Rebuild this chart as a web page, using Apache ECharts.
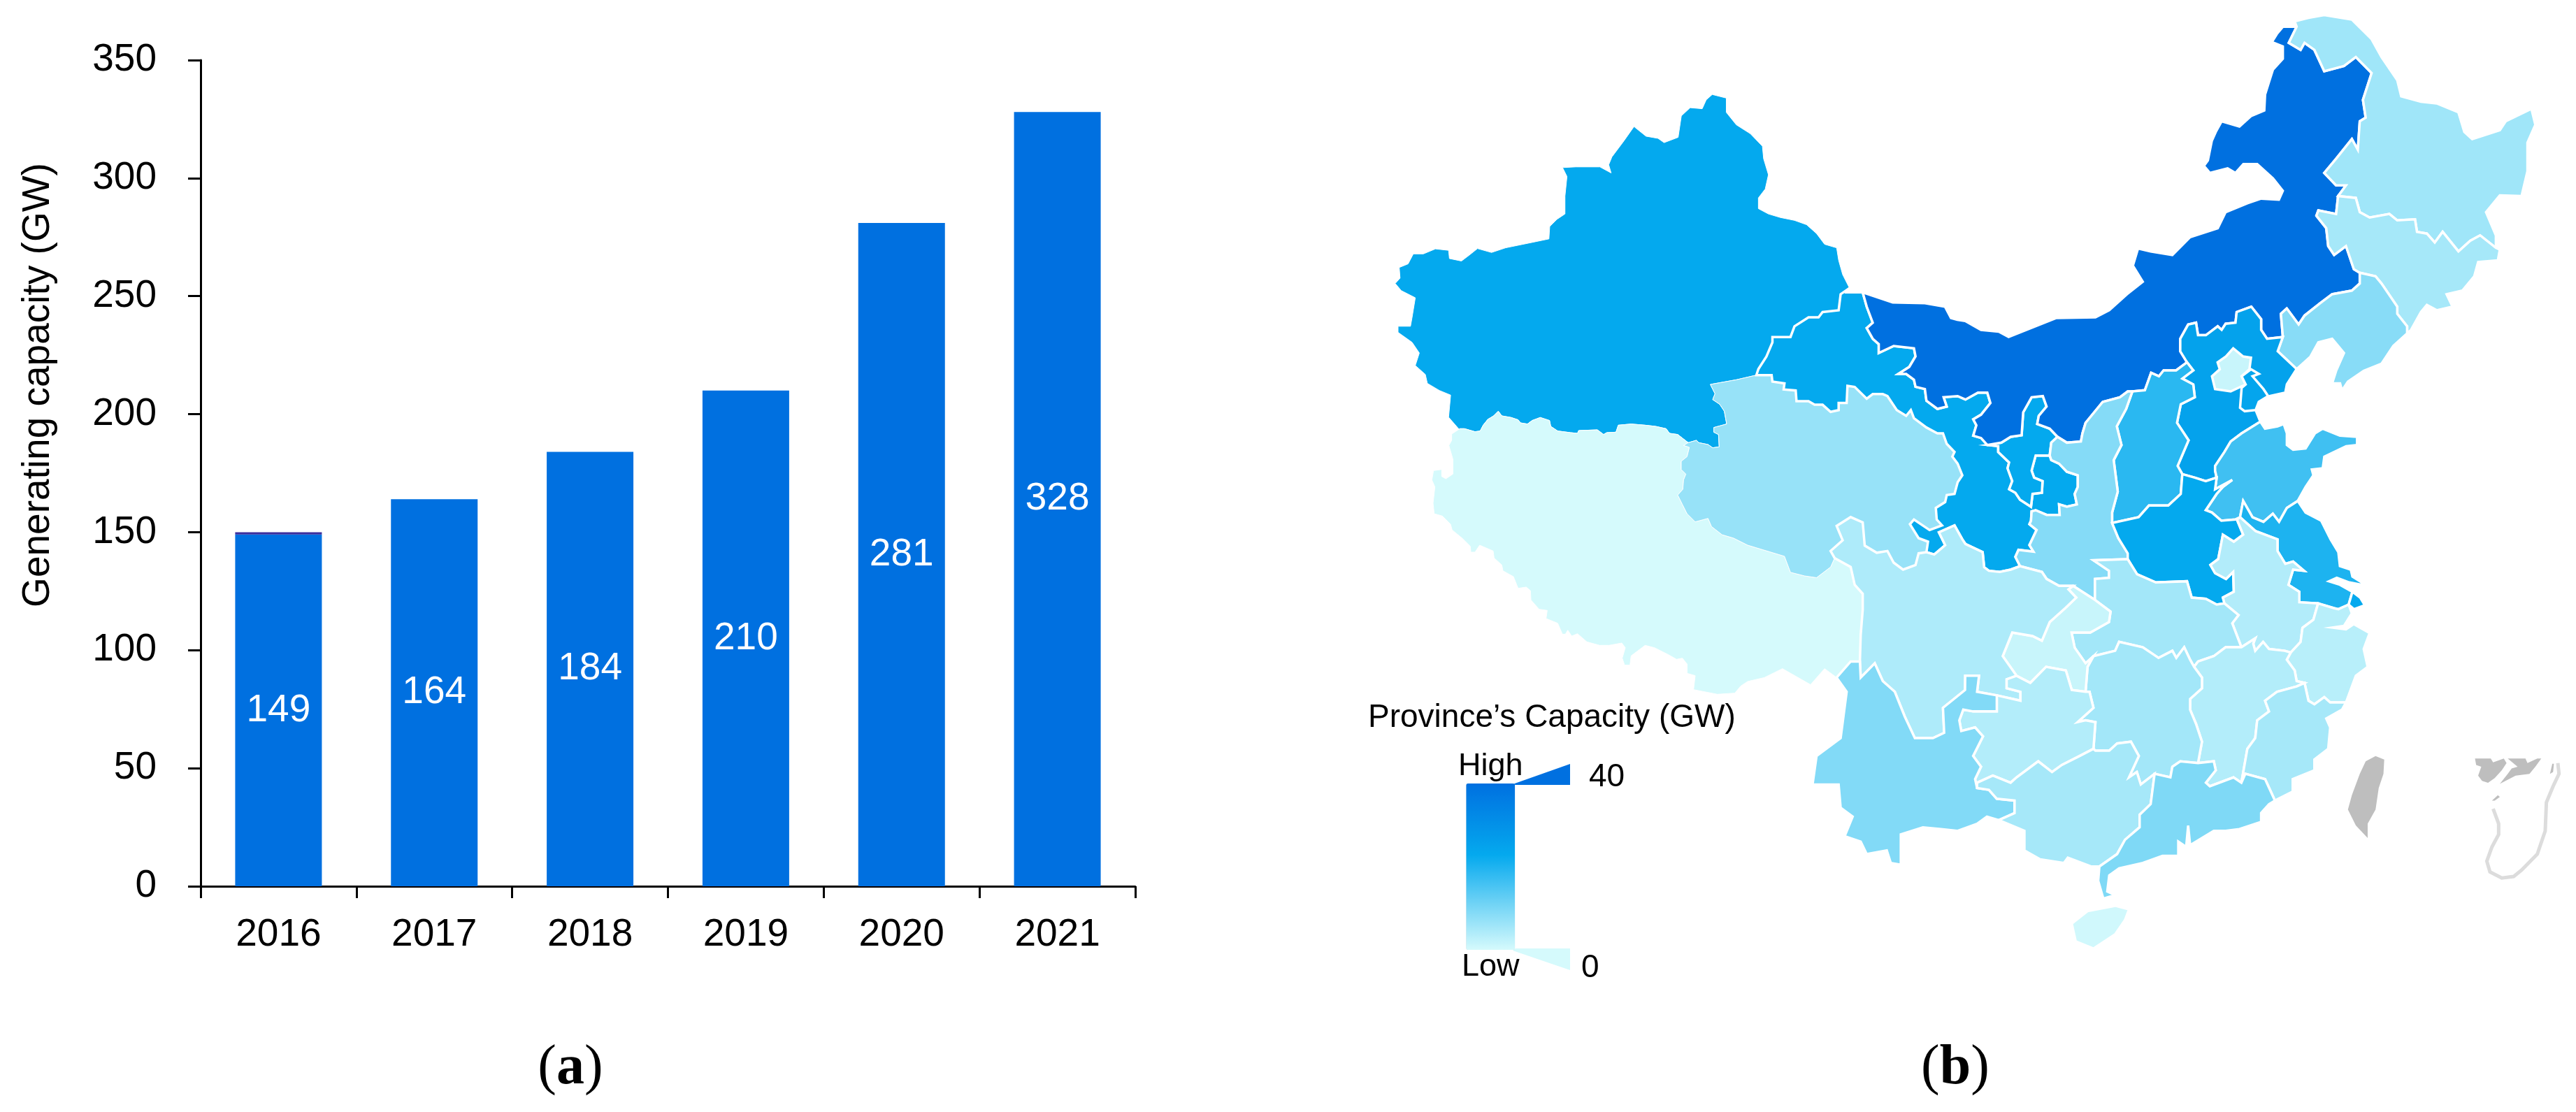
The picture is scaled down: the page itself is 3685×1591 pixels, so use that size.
<!DOCTYPE html>
<html><head><meta charset="utf-8"><style>html,body{margin:0;background:#fff}#c{width:3685px;height:1591px}</style>
<script src="https://cdn.jsdelivr.net/npm/echarts@6/dist/echarts.min.js"></script></head><body><div id="c"></div>
<script>
// ---------- panel (a) data ----------
const years = ['2016','2017','2018','2019','2020','2021'];
const capacity = [149,164,184,210,281,328];
const topSliver = [1,0,0,0,0,0];
const yTicks = {min:0,max:350,interval:50};

const provinceNames = ['Xinjiang','Xizang','Qinghai','Gansu','Ningxia','Inner Mongolia','Heilongjiang','Jilin','Liaoning','Hebei','Beijing','Tianjin','Shanxi','Shaanxi','Shandong','Henan','Jiangsu','Shanghai','Anhui','Zhejiang','Hubei','Jiangxi','Fujian','Hunan','Chongqing','Sichuan','Guizhou','Yunnan','Guangxi','Guangdong','Hainan'];
const provinceValues = [23,0,6.8,23,23,40,5.8,5.2,8.5,25,1.4,24,18.7,8.8,16.3,23,20.1,23,3.9,3.2,5.5,3.7,5.2,5.5,1.4,4.3,3.7,9.1,5.2,9.4,0.6];

// ---------- map outlines, traced as shared borders (map units) ----------
const trace=(ox,oy,sx,sy)=>(...n)=>{const o=[];for(let i=0;i<n.length;i+=2)o.push([ox+n[i]*sx,oy+n[i+1]*sy]);return o;};
const a2=trace(1950,0,.574,.5102),a3=trace(2800,0,.5644,.5102),a4=trace(1950,750,.574,.5102),a5=trace(2800,750,.5644,.5102);
const c1=trace(2000,550,1/3,1/3),c2=trace(2700,450,.4464,1/3);
const R=a=>[...a].reverse();

const xjNorth=a2(1212,808,1195,770,1185,730,1180,695,1150,685,1130,655,1105,630,1075,618,1040,610,1010,600,985,585,985,555,1002,530,1010,490,998,445,995,410,965,375,930,350,905,315,905,275,870,265,855,280,845,305,815,302,793,325,785,385,750,400,735,388,705,382,675,355,650,395,620,440,612,462,618,485,590,468,530,468,497,470,508,495,503,550,503,600,483,615,465,635,463,670,420,680,355,695,320,708,285,697,265,715,245,732,215,725,213,702,180,698,150,712,125,712,112,740,90,750,92,780,80,795,95,815,130,835,122,890,118,915,87,915,87,932,122,960,140,990,130,1025,155,1050,160,1075,190,1095,218,1108,213,1170,240,1205);
const xjxz=c1(265,190,285,190,330,203,352,200,365,175,385,150,410,135,430,115,445,135,485,142,515,152,525,165,555,170,575,155,610,142,650,155,655,180,685,200,740,207,770,210,775,198,855,195,882,215,895,207,935,205,945,175,1000,170,1060,175,1105,180,1150,190,1165,210,1200,215,1245,250);
const xjqh=[...c1(1245,250,1280,240,1290,250,1330,258,1350,272,1378,268,1375,215,1355,205,1355,185,1410,170,1400,115,1380,85,1350,65,1360,40,1340,0),...a2(930,1065,980,1052)];
const xjgs=a2(980,1052,985,1035,1005,1000,1020,960,1020,945,1065,945,1075,915,1110,890,1135,890,1145,875,1185,870,1190,825,1212,808);
const gsTop=a2(1212,808,1205,820,1245,820);
const xzOuter=[...c1(265,190,230,213,230,240,218,262,235,320,235,385,205,405,187,395,187,365,152,370,145,410,158,440,150,510,155,555,190,565,225,600,232,625,275,660,310,695,312,720,330,720,350,690,408,715,412,745,445,775,450,800,495,825,515,875,550,870,568,885,570,925,605,965,640,970,635,1005,685,1025,705,1072,718,1072,728,1055,745,1080,770,1070,810,1105,865,1120,905,1120,960,1110,975,1130,962,1175,972,1205,995,1205,1000,1165,1060,1120,1100,1130,1160,1160,1195,1180,1220,1175,1240,1200,1240,1240,1275,1250,1268,1310,1370,1330,1445,1325,1470,1295,1500,1275),...a4(1000,430,1045,405,1115,450,1150,405,1180,430)];
const xzyn=a4(1180,430,1215,385,1238,385);
const xzsc=a4(1175,95,1215,120,1225,170,1245,195,1245,240,1240,310,1238,385);
const qhxz=[...c1(1245,250,1225,262,1250,270,1240,310,1215,330,1215,365,1235,385,1225,410,1222,450,1200,475,1220,515,1240,555,1275,590,1330,575,1345,610,1390,645,1440,660,1500,690),...a4(1050,90,1065,135,1100,145,1130,150,1165,120,1175,95)];
const scqh=[...a4(1175,95,1165,75,1195,45,1180,5),...a2(1215,1450,1245,1465,1250,1530,1280,1550),...c2(0,1015,20,1065,50,1095,90,1075,100,1025,125,1020)];
const qhgs=[...a2(980,1052,1018,1052,1020,1070,1050,1075,1048,1092,1078,1095,1080,1125,1110,1125,1125,1135,1145,1135,1165,1155,1185,1150,1185,1130,1205,1130,1207,1082,1225,1085,1255,1118,1270,1105,1295,1105),...c2(0,350,30,410,60,435,75,410,85,445,125,485,160,510,178,510,190,555,215,590,208,610,225,640,240,690,225,720,215,770,190,775,185,805,155,830,158,880,175,905,135,925,85,880,72,900,100,960,130,975,125,1020)];
const gssc=c2(425,1080,395,1095,360,1105,325,1100,310,1085,305,1020,250,985,240,965,215,905,165,935,185,990,150,1030,125,1020);
const imOuter=[...a3(860,75,825,75,810,95,797,118,825,130,825,165,800,195,790,230,780,265,778,310,745,325,715,355,670,340,655,370,645,395,635,450,625,465,640,485,685,472,705,485,725,460,760,460,800,500,825,535,815,560,770,557,735,570,680,595,660,640,590,665,545,715,490,705,458,697,445,745,470,790,430,825,385,870,350,890,250,892,130,945,105,930,60,925,20,900,0,897),...a2(1465,892,1450,860,1400,850,1320,848,1245,820)];
const imgs=[...a2(1245,820,1255,860,1270,905,1255,920,1270,950,1285,965,1285,990),...c2(20,135,85,145,90,180,70,225,35,255,60,255,85,280,90,310,120,320,125,370,160,405,190,395,180,355,225,350,250,365,290,335,320,335,330,380,300,430,275,450,285,475,275,520,300,530,320,560)];
const imnx=c2(320,560,365,550,395,525,430,518,435,420,462,355,498,350,510,395,485,435,480,470,520,490,545,525);
const nxgs=c2(320,560,355,565,355,590,390,635,385,660,400,715,390,750,410,765,425,795,460,825,465,770,495,765,497,715,470,700,462,670,475,605,520,605);
const nxsx=c2(545,525,525,550,520,605);
const gssx=c2(520,605,525,625,550,640,575,675,610,690,610,740,600,770,607,815,575,825,550,815,552,860,510,860,475,840,462,845,460,885,455,900,478,925,455,990,468,1018,420,1010,410,1040,425,1080);
const imsx=c2(545,525,575,550,620,545,625,510,635,465,690,375,745,355,770,330,785,330);
const sxsn=c2(785,330,765,405,735,480,750,560,725,625,738,760,720,850,720,895);
const imsn=c2(785,330,825,325,845,250,870,265,885,240,925,240,960,205);
const snhb=c2(960,205,980,240,945,275,980,300,985,355,940,385,928,465,965,540,930,650,945,685);
const snhn=c2(945,685,940,770,900,820,838,820,805,870,720,895);
const imhb=[...c2(960,205),...a3(565,985,565,950,585,910,605,905,610,940,630,940,660,915,670,925,680,908,705,905,708,875,745,860,770,895,770,925,785,950,825,945)];
const lnhb=a3(825,945,812,985,860,1035);
const hbCoast=[...a3(860,1035),...c2(1280,300,1275,335,1225,350,1190,375,1180,410,1195,460)];
const hbsd=c2(1195,460,1135,510,1100,545,1080,590,1050,650,1050,670,1055,700);
const hbhn=c2(1055,700,1020,715,985,700,945,685);
const beijing=c2(1108,145,1140,180,1165,185,1160,235,1135,265,1148,300,1100,330,1050,320,1040,265,1065,235,1058,205,1085,180);
const tianjin=c2(1165,235,1190,255,1170,265,1205,320,1220,350,1190,375,1180,410,1145,415,1130,400,1135,315,1148,300,1135,265);
const imln=a3(825,945,820,880,835,865,865,910,880,885,920,850,950,825,1000,815,1020,795,1020,765);
const imjl=a3(1020,765,1005,755,985,690,955,715,940,690,935,640,910,605,915,590,960,600,965,550);
const imhlj=a3(965,550,985,520,960,520,930,485,960,445,1000,390,1015,420,1020,340,1035,330,1028,280,1050,205,1010,160,980,185,930,200,905,140,880,120,870,140,840,120,860,75);
const hljOuter=a3(860,75,855,60,890,50,930,42,1000,55,1050,110,1075,160,1115,225,1125,270,1175,285,1215,290,1270,315,1285,370,1305,390,1375,365,1390,340,1455,305,1465,350,1445,400,1445,480,1430,550,1375,548,1340,595,1365,660,1365,695);
const hljjl=a3(965,550,1010,555,1020,595,1045,610,1095,600,1115,618,1160,615,1165,650,1190,655,1210,680,1230,650,1270,705,1300,675,1325,660,1365,695);
const jlOuter=a3(1365,695,1375,700,1370,730,1320,735,1310,775,1280,815,1240,825,1255,860,1215,870,1190,855,1175,875,1150,925,1140,935);
const jlln=a3(1020,765,1060,775,1075,795,1115,860,1115,880,1140,915,1140,935);
const lnCoast=a3(1140,935,1105,970,1075,1020,1030,1040,990,1070,975,1095,970,1075,950,1075,960,1040,980,990,950,950,915,960,895,1000,870,1025,860,1035);
const sdCoast=c2(1195,460,1210,490,1250,480,1270,470,1280,510,1280,560,1300,580,1340,575,1370,510,1395,490,1450,520,1505,525,1505,560,1470,565,1400,610,1395,660,1360,665,1365,690,1340,740,1315,800);
const sdjs=c2(1315,800,1280,830,1255,890,1235,855,1205,890,1170,870,1140,800,1130,870);
const hnsd=c2(1130,870,1115,880,1070,885,1040,850,1020,840,1055,770,1075,740,1105,710,1050,750,1055,700);
const sxhn=c2(720,895,740,960,770,1025,770,1050);
const sxhb=c2(770,1050,660,1055,710,1100,710,1130,665,1135,665,1225);
const cqsx=c2(595,1165,665,1225);
const scsx=c2(425,1080,495,1105,510,1135,550,1165,595,1165);
const hubhn=c2(770,1050,800,1115,860,1150,960,1145,975,1215,1020,1220,1055,1245,1080,1240);
const ahhn=c2(1080,1240,1075,1215,1110,1190,1108,1105,1085,1135,1050,1110,1035,1075,1060,1050,1075,945,1110,975,1140,945,1120,880,1130,870);
const jsah=c2(1130,870,1180,930,1250,965,1250,1015,1275,1070,1300,1060,1335,1100,1300,1095,1285,1160,1320,1190,1320,1235,1380,1240);
const jsCoast=c2(1315,800,1340,850,1390,885,1420,965,1445,1020,1450,1080,1485,1095,1490,1125,1520,1150,1520,1160,1480,1150,1440,1130,1415,1145,1450,1160,1490,1190);
const jssh=c2(1490,1190,1478,1245);
const shOuter=c2(1478,1245,1495,1265,1530,1248,1515,1215,1490,1190);
const jszj=c2(1380,1240,1430,1260,1445,1265,1478,1245);
const zjCoast=[...c2(1478,1245),...a5(1000,250,980,285,950,290,985,295,1005,280,1045,305,1030,350,1040,400,1010,425,985,500)];
const zjfj=a5(985,500,945,500,930,485,905,505,890,495,880,445);
const zjjx=a5(880,445,860,440,855,410,835,380,845,360);
const ahzj=[...c2(1380,1240,1365,1310,1330,1345),...a5(870,330,845,360)];
const ahjx=a5(845,360,830,355,790,350,775,330,755,355,750,335,755,320,720,345);
const ahhub=[...a5(720,345),...c2(1105,1325,1125,1290,1080,1240)];
const hubjx=a5(600,400,610,385,650,370,680,345,720,345);
const hubhun=a5(345,370,400,355,410,330,470,345,510,375,545,355,555,375,575,345,590,380,600,400);
const cqhub=[...c2(665,1225,715,1275,710,1320,650,1365,590,1365,600,1430),...a5(325,390,345,370)];
const cqhun=a5(345,370,330,400,325,470);
const gzcq=a5(150,425,185,445,225,400,275,410,290,465,325,470);
const sccq=[...c2(595,1165,580,1180,605,1215,570,1260,520,1320,495,1400,465,1380,400,1365),...a5(115,370,150,425)];
const scgz=a5(100,480,160,495,160,470,125,460,125,435,150,425);
const jxhun=a5(600,400,620,430,620,460,590,490,590,520,605,560,620,610,610,670);
const jxgd=a5(610,670,650,665,655,690,630,725,640,735,700,710,720,725);
const jxfj=a5(720,725,735,630,755,600,760,550,790,525,780,495,810,470,860,455,880,445);
const fjgd=a5(720,725,730,700,780,715,805,775);
const fjCoast=a5(985,500,975,520,935,545,945,570,940,630,905,660,905,690,850,715,850,750,805,775);
const gdCoast=a5(805,775,790,785,770,810,770,835,715,855,680,860,650,860,620,880,590,900,585,845,580,905,560,890,560,930,520,930,470,950,410,965,385,985,380,1030,400,1040,370,1050,357,1000,360,960);
const gdgx=a5(360,960,405,925,425,885,462,850,462,815,490,785,497,725,500,700);
const gdhun=a5(500,700,540,710,545,680,565,665,610,670);
const gxhun=a5(500,700,465,730,455,695,435,710,460,650,440,610,405,615,385,635,350,635,345,630);
const gzhun=a5(345,630,350,555,325,550,305,555,345,515,335,470,325,470);
const gzgx=a5(345,630,310,650,265,675,240,695,205,665,150,710,135,725,90,705,50,725,50,740);
const yngx=a5(50,740,80,745,100,770,145,775,145,810,105,830);
const gxCoast=a5(105,830,170,860,170,915,210,940,270,950,280,935,340,960,360,960);
const yngz=a5(100,480,100,525,40,525,15,520,5,550,10,580,45,570,65,595,40,650,60,680,45,715,50,740);
const ynsc=[...a4(1238,385,1240,430,1275,390,1295,440,1325,470,1350,540,1375,600,1420,600,1448,585,1445,515,1500,465),...a5(20,425,55,425,50,470,100,480)];
const ynOuter=[...a5(105,830,75,820,50,840,0,860),...a4(1440,855,1395,850,1340,870,1340,955,1315,950,1305,915,1255,925,1240,890,1200,875,1220,820,1190,795,1185,730,1120,730,1130,650,1190,600,1205,470,1180,430)];
const hainan=a5(290,1120,330,1085,400,1070,435,1080,425,1110,400,1150,345,1190,300,1170);
const taiwan=a5(1060,650,1082,660,1080,700,1068,740,1060,800,1040,840,1040,880,1010,845,990,800,1000,760,1020,700,1035,665);
const insetA=a5(1312,657,1352,657,1358,668,1385,657,1392,670,1380,690,1362,712,1345,725,1330,720,1320,705,1328,680,1315,675);
const insetB=a5(1395,657,1440,657,1445,670,1470,657,1480,657,1465,680,1450,700,1415,705,1375,728,1395,700,1405,685,1420,680);
const insetC=a5(1355,775,1370,760,1375,765,1362,775);
const insetD=a5(1508,672,1502,700,1510,695,1512,672);
const insetLine1=a5(1522,670,1525,700,1510,735,1493,780,1490,860,1470,925,1430,970,1410,988,1380,992,1350,975,1342,945,1355,905,1372,870,1372,840,1358,798);

const provinceRings={
 'Xinjiang':[xjNorth,xjxz,xjqh,xjgs],
 'Xizang':[R(xjxz),xzOuter,xzyn,R(xzsc),R(qhxz)],
 'Qinghai':[xjqh,qhgs,R(scqh),R(qhxz)],
 'Gansu':[xjgs,gsTop,imgs,nxgs,gssx,gssc,R(qhgs)],
 'Ningxia':[imnx,nxsx,R(nxgs)],
 'Inner Mongolia':[imOuter,imgs,imnx,imsx,imsn,imhb,imln,imjl,imhlj],
 'Heilongjiang':[imhlj,hljOuter,R(hljjl)],
 'Jilin':[hljjl,jlOuter,R(jlln),imjl],
 'Liaoning':[R(imln),lnhb,R(lnCoast),R(jlln)],
 'Hebei':[imhb,lnhb,hbCoast,hbsd,hbhn,R(snhb)],
 'Beijing':[beijing],
 'Tianjin':[tianjin],
 'Shanxi':[imsn,snhb,snhn,R(sxsn)],
 'Shaanxi':[imsx,sxsn,sxhn,sxhb,R(cqsx),R(scsx),R(gssx),R(nxsx)],
 'Shandong':[sdCoast,sdjs,hnsd,R(hbsd)],
 'Henan':[R(hbhn),R(hnsd),R(ahhn),R(hubhn),R(sxhn),R(snhn)],
 'Jiangsu':[R(sdjs),jsCoast,jssh,R(jszj),R(jsah)],
 'Shanghai':[jssh,shOuter],
 'Anhui':[jsah,ahzj,ahjx,ahhub,ahhn],
 'Zhejiang':[jszj,zjCoast,zjfj,zjjx,R(ahzj)],
 'Hubei':[hubhn,R(ahhub),R(hubjx),R(hubhun),R(cqhub),R(sxhb)],
 'Jiangxi':[hubjx,R(ahjx),R(zjjx),R(jxfj),R(jxgd),R(jxhun)],
 'Fujian':[jxfj,R(zjfj),fjCoast,R(fjgd)],
 'Hunan':[hubhun,jxhun,R(gdhun),gxhun,gzhun,R(cqhun)],
 'Chongqing':[cqsx,cqhub,cqhun,R(gzcq),R(sccq)],
 'Sichuan':[scqh,R(gssc),scsx,sccq,R(scgz),R(ynsc),R(xzsc)],
 'Guizhou':[scgz,gzcq,R(gzhun),gzgx,R(yngz)],
 'Yunnan':[ynsc,yngz,yngx,ynOuter,xzyn],
 'Guangxi':[R(gzgx),R(gxhun),R(gdgx),R(gxCoast),R(yngx)],
 'Guangdong':[gdhun,jxgd,fjgd,gdCoast,gdgx],
 'Hainan':[hainan],
 'Taiwan':[taiwan],'Inset A':[insetA],'Inset B':[insetB],'Inset C':[insetC],'Inset D':[insetD]
};
const greyRegions=['Taiwan','Inset A','Inset B','Inset C','Inset D'];
const thinBorderRegions=['Xinjiang','Xizang','Qinghai'];

const features=Object.keys(provinceRings).map(name=>{
  const ring=[].concat(...provinceRings[name]);ring.push(ring[0]);
  return {type:'Feature',properties:{name},geometry:{type:'Polygon',coordinates:[ring]}};
});
echarts.registerMap('capacityMap',{type:'FeatureCollection',features});
let x0=1e9,y0=1e9,x1=-1e9,y1=-1e9;
features.forEach(f=>f.geometry.coordinates[0].forEach(([x,y])=>{x0=Math.min(x0,x);x1=Math.max(x1,x);y0=Math.min(y0,y);y1=Math.max(y1,y);}));

// legend colour ramp: pale -> bright at 23 GW -> deep at 40 GW
const rgb=h=>[1,3,5].map(i=>parseInt(h.substr(i,2),16));
const mix=(a,b,t)=>'rgb('+rgb(a).map((v,i)=>Math.round(v+(rgb(b)[i]-v)*t)).join(',')+')';
const LOW='#D5FAFC',MID='#04A9EE',HIGH='#0070E0';
const ramp=[0,.25,.5,.75,1].map(t=>mix(LOW,MID,t)).concat([1/3,2/3,1].map(t=>mix(MID,HIGH,t)));

const SANS='"Liberation Sans",Arial,sans-serif',SERIF='"Liberation Serif","Times New Roman",serif';
const caption=(letter,cx)=>({type:'text',x:cx,y:1529,style:{text:'{p|(}{b|'+letter+'}{p|)}',align:'center',verticalAlign:'middle',
  rich:{p:{font:'80px '+SERIF,fill:'#000'},b:{font:'bold 80px '+SERIF,fill:'#000'}}}});

const chart=echarts.init(document.getElementById('c'));
chart.setOption({
 animation:false,backgroundColor:'#fff',
 grid:{left:287,top:86,width:1337,height:1182},
 xAxis:{type:'category',data:years,axisLine:{lineStyle:{color:'#000',width:3}},axisTick:{show:true,length:17,lineStyle:{color:'#000',width:3}},
   axisLabel:{color:'#000',fontFamily:SANS,fontSize:55,margin:42}},
 yAxis:{type:'value',min:yTicks.min,max:yTicks.max,interval:yTicks.interval,splitLine:{show:false},
   name:'Generating capacity (GW)',nameLocation:'middle',nameRotate:90,nameGap:205,
   nameTextStyle:{color:'#000',fontFamily:SANS,fontSize:55,padding:[0,0,0,252]},
   axisLine:{show:true,lineStyle:{color:'#000',width:3}},axisTick:{show:true,length:18,lineStyle:{color:'#000',width:3}},
   axisLabel:{color:'#000',fontFamily:SANS,fontSize:55,margin:63}},
 geo:{map:'capacityMap',silent:true,aspectScale:1,projection:{project:p=>p,unproject:p=>p},
   left:x0,top:y0,width:x1-x0,height:y1-y0,roam:false,
   itemStyle:{areaColor:'#BEBEBE',borderColor:'#fff',borderWidth:3.5},
   regions:greyRegions.map(name=>({name,itemStyle:{areaColor:'#BEBEBE',borderWidth:0}})).concat(thinBorderRegions.map(name=>({name,itemStyle:{borderWidth:1}})))},
 visualMap:{type:'continuous',seriesIndex:2,min:0,max:40,left:2086,top:1074,padding:0,itemWidth:70,itemHeight:238,calculable:false,hoverLink:false,
   text:['High','Low'],textGap:2,textStyle:{color:'#000',fontFamily:SANS,fontSize:45},inRange:{color:ramp}},
 series:[
  {type:'bar',stack:'t',data:capacity,barWidth:124,itemStyle:{color:'#0070E0'},silent:true,
   label:{show:true,position:'inside',color:'#fff',fontFamily:SANS,fontSize:55}},
  {type:'bar',stack:'t',data:topSliver,barWidth:124,itemStyle:{color:'#3A2E9E'},silent:true},
  {type:'map',geoIndex:0,silent:true,data:provinceNames.map((name,i)=>({name,value:provinceValues[i]}))},
  {type:'lines',coordinateSystem:'geo',polyline:true,silent:true,lineStyle:{color:'#DCDCDC',width:5,opacity:1,curveness:0},data:[{coords:insetLine1}]}
 ],
 graphic:[
  {type:'text',x:1957,y:1027,style:{text:'Province’s Capacity (GW)',font:'46px '+SANS,fill:'#000',verticalAlign:'middle'}},
  {type:'polygon',shape:{points:[[2164,1122],[2246,1093],[2246,1123],[2168,1123]]},style:{fill:'#0070E0'}},
  {type:'polygon',shape:{points:[[2168,1357],[2246,1357],[2246,1388],[2164,1360]]},style:{fill:'#D5FAFC'}},
  {type:'text',x:2273,y:1112,style:{text:'40',font:'46px '+SANS,fill:'#000',verticalAlign:'middle'}},
  {type:'text',x:2262,y:1385,style:{text:'0',font:'46px '+SANS,fill:'#000',verticalAlign:'middle'}},
  caption('a',816),caption('b',2797)
 ]
});
</script></body></html>
